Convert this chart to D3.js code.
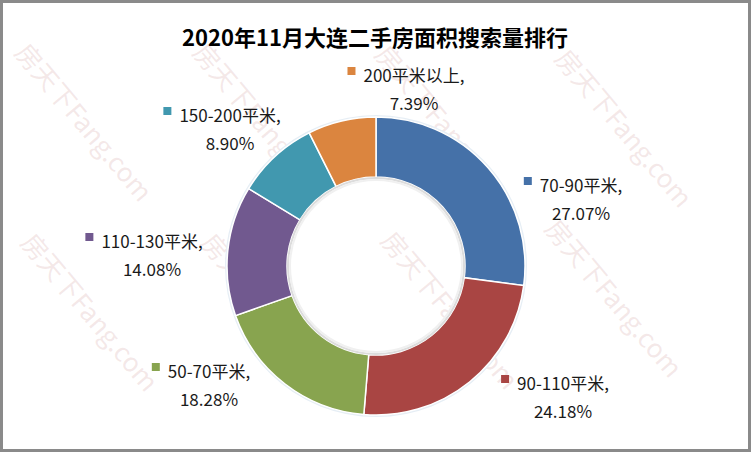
<!DOCTYPE html>
<html><head><meta charset="utf-8">
<script src="https://cdn.jsdelivr.net/npm/d3@7/dist/d3.min.js"></script>
<style>
html,body{margin:0;padding:0;background:#fff;}
svg{display:block;}
text{font-family:"Noto Sans CJK SC","Noto Sans",sans-serif;}
</style></head>
<body>
<svg id="chart" width="751" height="452"></svg>
<script>
// ---- data ----
const title = "2020年11月大连二手房面积搜索量排行";
const categories = ["70-90平米", "90-110平米", "50-70平米", "110-130平米", "150-200平米", "200平米以上"];
const values = [27.07, 24.18, 18.28, 14.08, 8.90, 7.39];
const colors = ["#4571A8", "#A94543", "#88A44F", "#71598F", "#4198AF", "#DB853F"];
const watermark = "房天下Fang.com";

// ---- layout (not data) ----
const W = 751, H = 452;
const cx = 376, cy = 266, R = 149, r = 89;
// label anchor: centre x of text, baseline of first line
const labelPos = [[581,192],[563,390],[209,378],[152,248],[230,122],[414,82]];
const wmPos = [[32,38],[210,38],[392,40],[572,44],[38,228],[218,228],[398,226],[562,214]];

const svg = d3.select("#chart");
svg.append("rect").attr("x",0).attr("y",0).attr("width",W).attr("height",H).attr("fill","#fff");

// watermarks
const wm = svg.append("g");
wmPos.forEach(p=>{
  wm.append("text").attr("transform",`translate(${p[0]},${p[1]}) rotate(50)`)
    .attr("font-size",26).attr("fill","rgba(205,150,150,0.22)")
    .attr("dominant-baseline","hanging").text(watermark);
});

// title
svg.append("text").attr("x",375).attr("y",46).attr("text-anchor","middle")
  .attr("font-size",22).attr("font-weight","bold").attr("fill","#000").text(title);

// donut
const pie = d3.pie().sort(null).value(d=>d.v);
const arcs = pie(values.map((v,i)=>({v,i})));
const arc = d3.arc().innerRadius(r).outerRadius(R);
const g = svg.append("g").attr("transform",`translate(${cx},${cy})`);
g.append("circle").attr("r",R+1).attr("fill","none").attr("stroke","#e6eef5").attr("stroke-width",2);
g.selectAll("path").data(arcs).join("path")
  .attr("d",arc).attr("fill",d=>colors[d.data.i])
  .attr("stroke","#fff").attr("stroke-width",1.5);
g.append("circle").attr("r",r-1).attr("fill","none").attr("stroke","#dcdcdc").attr("stroke-width",2);
g.append("circle").attr("r",r-3).attr("fill","none").attr("stroke","#f0f0f0").attr("stroke-width",2);

// labels
const lg = svg.append("g");
categories.forEach((c,i)=>{
  const [x,y] = labelPos[i];
  const t1 = lg.append("text").attr("x",x).attr("y",y).attr("text-anchor","middle")
    .attr("font-size",17).attr("fill","#1a1a1a").text(c + ",");
  lg.append("text").attr("x",x).attr("y",y+27.5).attr("text-anchor","middle")
    .attr("font-size",17).attr("fill","#1a1a1a").text(values[i].toFixed(2) + "%");
  const w = t1.node().getComputedTextLength();
  lg.append("rect").attr("x",x - w/2 - 16).attr("y",y-15).attr("width",8).attr("height",8)
    .attr("fill",colors[i]);
});

// frame
svg.append("rect").attr("x",1.5).attr("y",1.5).attr("width",W-3).attr("height",H-3)
  .attr("fill","none").attr("stroke","#8a8a8a").attr("stroke-width",3);
</script>
</body></html>
